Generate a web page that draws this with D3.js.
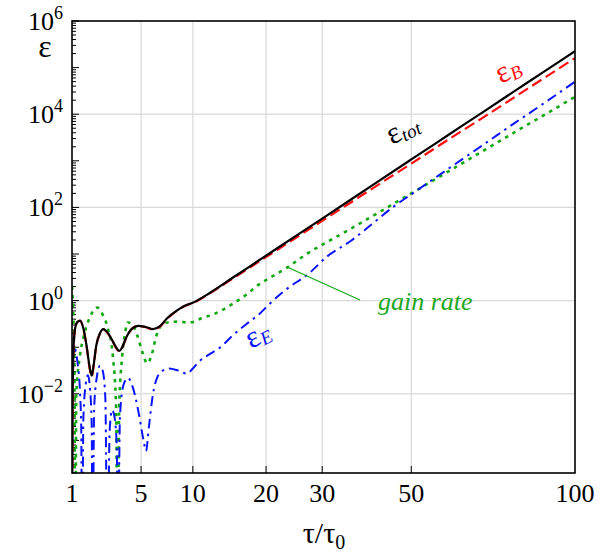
<!DOCTYPE html>
<html><head><meta charset="utf-8">
<script src="https://cdn.jsdelivr.net/npm/d3@7"></script>
<style>body{margin:0;background:#fff}svg{display:block}
text{font-family:"Liberation Serif","Tinos","Times New Roman",Times,"DejaVu Serif","Noto Serif",serif;}</style>
</head><body>
<svg id="c" width="611" height="553"></svg>
<script>
// ---- data ----
const totTau = [1.0,1.02,1.05,1.1,1.2,1.31,1.45,1.6,1.72,1.83,1.92,2.05,2.25,2.44,2.7,3.0,3.25,3.41,3.6,3.9,4.3,4.78,5.3,6.0,6.6,7.3,8.26,9.0,10.05,12,15,20,25,30,40,50,60,70,80,90,100];
const totVal = [1e-6,5.0e-3,0.079,0.224,0.347,0.372,0.251,0.1,0.04,0.0245,0.04,0.105,0.2,0.245,0.2,0.132,0.093,0.083,0.1,0.166,0.251,0.288,0.275,0.245,0.28,0.417,0.61,0.76,0.91,1.46,3.09,9.2,24.3,57.5,273,1070,3670,11400,32800,88500,226000];
const bTau = [1.0,1.02,1.05,1.1,1.2,1.31,1.45,1.6,1.72,1.83,1.92,2.05,2.25,2.44,2.7,3.0,3.25,3.41,3.6,3.9,4.3,4.78,5.3,6.0,6.6,7.3,8.26,9.0,10.05,12,15,20,25,30,40,50,60,70,80,90,100];
const bVal = [1e-6,4.5e-3,0.075,0.22,0.342,0.367,0.245,0.097,0.038,0.0235,0.039,0.102,0.197,0.242,0.197,0.13,0.091,0.081,0.098,0.163,0.247,0.284,0.271,0.241,0.275,0.41,0.6,0.75,0.895,1.43,2.95,8.6,22.1,51.3,233,871,2920,8670,24300,64100,160000];
const eTau = [1.0,1.02,1.05,1.1,1.2,1.3,1.36,1.39,1.45,1.55,1.65,1.75,1.83,1.87,1.95,2.1,2.25,2.4,2.55,2.67,2.8,2.95,3.1,3.25,3.32,3.45,3.7,4.0,4.4,4.8,5.2,5.4,5.65,6.0,6.36,6.9,7.5,8.4,9.35,10.0,10.8,12,13.3,15,17,19,20.6,23.1,27.6,31,36,40,45.5,50,60,70,80,90,100];
const eVal = [1e-6,0.05,0.112,0.1,0.05,0.0126,1.6e-3,1e-6,3.2e-3,0.0158,0.025,0.0126,2e-3,1e-6,5e-3,0.025,0.04,0.0316,7.9e-3,1e-6,1.6e-3,4.5e-3,3.2e-3,6.3e-4,1e-6,3.2e-3,0.0158,0.022,0.0126,4e-3,1e-3,5.9e-4,2e-3,0.01,0.022,0.0316,0.035,0.0316,0.027,0.035,0.051,0.071,0.098,0.178,0.316,0.525,0.86,1.64,3.98,8.9,19.5,39.8,102,191,692,2240,6760,18600,50100];
const gTau = [1.0,1.03,1.06,1.09,1.12,1.16,1.3,1.5,1.75,2.1,2.4,2.7,3.0,3.2,3.3,3.4,3.6,3.8,4.0,4.3,4.7,5.1,5.5,5.9,6.3,6.63,7.0,7.6,8.5,9.3,10.05,11,12.5,15,17,19,21,23.5,27,31.5,36,40,50,60,70,80,90,100];
const gVal = [2.0,1.0,0.25,0.032,1e-6,0.01,0.063,0.2,0.45,0.71,0.5,0.25,0.063,0.005,1e-6,0.005,0.063,0.2,0.34,0.316,0.178,0.079,0.045,0.071,0.178,0.27,0.32,0.347,0.355,0.34,0.347,0.417,0.51,0.85,1.35,2.29,3.3,5.1,10,19.5,35.5,60,200,603,1660,4270,10200,23700];
const xTicks = [1,5,10,20,30,50,100];
const yTicks = [1e-2,1,1e2,1e4,1e6];
const yTickExp = ["\u22122","0","2","4","6"];

// ---- layout ----
const L = 72, R = 575, T = 21, B = 473;
const svg = d3.select("#c");
const x = d3.scaleSqrt().domain([1,100]).range([L,R]);
const y = d3.scaleLog().domain([2e-4,1e6]).range([B,T]);

// grid
const gridX = [5,10,20,30,50];
svg.append("g").selectAll("line").data(gridX).join("line")
  .attr("x1",d=>x(d)).attr("x2",d=>x(d)).attr("y1",T).attr("y2",B)
  .attr("stroke","#d9d9d9").attr("stroke-width",1.2);
svg.append("g").selectAll("line").data([1e-2,1,1e2,1e4]).join("line")
  .attr("y1",d=>y(d)).attr("y2",d=>y(d)).attr("x1",L).attr("x2",R)
  .attr("stroke","#d9d9d9").attr("stroke-width",1.2);

// left ticks (inside)
const yt = [];
for (let d=-4; d<=6; d++) for (let k=1;k<=9;k++){ const v=k*Math.pow(10,d); if(v>=2e-4 && v<=1e6) yt.push({v,major:k===1}); }
svg.append("g").selectAll("line").data(yt).join("line")
  .attr("x1",L).attr("x2",d=>L+(d.major?7:4)).attr("y1",d=>y(d.v)).attr("y2",d=>y(d.v))
  .attr("stroke","#000").attr("stroke-width",1);
// bottom ticks
svg.append("g").selectAll("line").data(gridX).join("line")
  .attr("x1",d=>x(d)).attr("x2",d=>x(d)).attr("y1",B).attr("y2",B-7)
  .attr("stroke","#000").attr("stroke-width",1);

// curves
svg.append("clipPath").attr("id","pc").append("rect").attr("x",L).attr("y",T).attr("width",R-L).attr("height",B-T);
const line = d3.line().x(d=>x(d[0])).y(d=>y(d[1])).curve(d3.curveMonotoneX);
const series = [
  {t:gTau,v:gVal,c:"#13a813",w:2.6,dash:"3.5,5"},
  {t:eTau,v:eVal,c:"#0a14ff",w:2,dash:"10,5,2.5,5"},
  {t:bTau,v:bVal,c:"#ff1010",w:2.2,dash:"11,5"},
  {t:totTau,v:totVal,c:"#000",w:2.2,dash:null}
];
const gc = svg.append("g").attr("clip-path","url(#pc)");
series.forEach(s=>{
  gc.append("path").datum(s.t.map((t,i)=>[t,s.v[i]]))
    .attr("d",line).attr("fill","none").attr("stroke",s.c).attr("stroke-width",s.w)
    .attr("stroke-dasharray",s.dash);
});

// frame
svg.append("rect").attr("x",L).attr("y",T).attr("width",R-L).attr("height",B-T)
  .attr("fill","none").attr("stroke","#000").attr("stroke-width",1.6);

// y tick labels
yTicks.forEach((v,i)=>{
  const t = svg.append("text").attr("x",63).attr("y",y(v)+9).attr("text-anchor","end")
    .attr("font-size",26);
  t.append("tspan").text("10");
  t.append("tspan").attr("dy",-11).attr("font-size",18).text(yTickExp[i]);
});
// x tick labels
svg.append("g").selectAll("text").data(xTicks).join("text")
  .attr("x",d=>x(d)).attr("y",502).attr("text-anchor","middle")
  .attr("font-size",26).text(d=>d);

// axis titles
const xt = svg.append("text").attr("x",324).attr("y",543).attr("text-anchor","middle")
  .attr("font-size",30);
xt.append("tspan").text("\u03c4/\u03c4");
xt.append("tspan").attr("dy",6).attr("font-size",20).text("0");
svg.append("text").attr("x",45).attr("y",57).attr("text-anchor","middle")
  .attr("font-size",32).text("\u03b5");

// in-plot labels
function lab(xp,yp,ang,col,sub){
  const t = svg.append("text").attr("transform",`translate(${xp},${yp}) rotate(${ang})`)
    .attr("fill",col).attr("font-size",31);
  t.append("tspan").text("\u03b5");
  t.append("tspan").attr("dy",3).attr("font-size",19).attr("font-style","italic").text(sub);
}
lab(392,145,-27,"#000","tot");
lab(501,84,-27,"#ff1010","B");
lab(251,349,-27,"#0a14ff","E");

// gain rate
svg.append("line").attr("x1",287).attr("y1",267).attr("x2",360).attr("y2",300)
  .attr("stroke","#13a813").attr("stroke-width",1.2);
svg.append("text").attr("x",378).attr("y",310)
  .attr("font-style","italic").attr("font-size",26).attr("fill","#22a822").text("gain rate");
</script>
</body></html>
